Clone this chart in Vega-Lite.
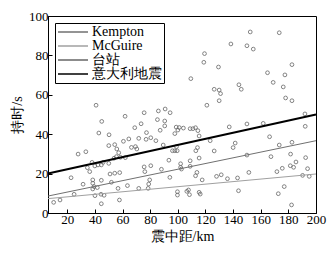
{
  "$schema": "https://vega.github.io/schema/vega-lite/v6.json",
  "width": 268,
  "height": 197,
  "autosize": "none",
  "padding": {"left": 48, "top": 16, "right": 19, "bottom": 40},
  "background": "white",
  "config": {
    "view": {"stroke": "black", "strokeWidth": 1},
    "axis": {
      "grid": false,
      "domainColor": "black",
      "tickColor": "black",
      "labelColor": "black",
      "titleColor": "black",
      "labelFont": "Liberation Serif",
      "labelFontSize": 13,
      "titleFont": "Liberation Serif",
      "titleFontSize": 14,
      "titleFontWeight": "normal",
      "tickSize": -4,
      "labelPadding": 4,
      "labelOverlap": false,
      "labelFlush": false,
      "labelBound": false
    }
  },
  "datasets": {
    "stations": [
      {"dist":152.4,"dur":91.9,"s":"台站"},{"dist":173.4,"dur":91.5,"s":"台站"},{"dist":138.4,"dur":85.8,"s":"台站"},{"dist":150,"dur":84.9,"s":"台站"},
      {"dist":154.6,"dur":83.2,"s":"台站"},{"dist":119.3,"dur":80.9,"s":"台站"},{"dist":118.8,"dur":76.5,"s":"台站"},{"dist":129.4,"dur":74.1,"s":"台站"},
      {"dist":182.6,"dur":75.3,"s":"台站"},{"dist":109.4,"dur":68.2,"s":"台站"},{"dist":164.9,"dur":71.2,"s":"台站"},{"dist":177.5,"dur":70.1,"s":"台站"},
      {"dist":169,"dur":66.3,"s":"台站"},{"dist":176.3,"dur":64,"s":"台站"},{"dist":144.2,"dur":65.1,"s":"台站"},{"dist":145.9,"dur":62.8,"s":"台站"},
      {"dist":126.3,"dur":62.8,"s":"台站"},{"dist":129.9,"dur":62.4,"s":"台站"},{"dist":130.9,"dur":60.6,"s":"台站"},{"dist":178,"dur":58.4,"s":"台站"},
      {"dist":182.6,"dur":57,"s":"台站"},{"dist":129.9,"dur":57,"s":"台站"},{"dist":121,"dur":54.7,"s":"台站"},{"dist":192,"dur":50.3,"s":"台站"},
      {"dist":104,"dur":43.1,"s":"台站"},{"dist":108.9,"dur":42.8,"s":"台站"},{"dist":110.9,"dur":42.8,"s":"台站"},{"dist":112.8,"dur":43.3,"s":"台站"},
      {"dist":114.5,"dur":41.8,"s":"台站"},{"dist":115.4,"dur":39.1,"s":"台站"},{"dist":137.2,"dur":43.7,"s":"台站"},{"dist":150,"dur":45.2,"s":"台站"},
      {"dist":161.8,"dur":45.5,"s":"台站"},{"dist":192.2,"dur":44,"s":"台站"},{"dist":166.4,"dur":38.7,"s":"台站"},{"dist":182.6,"dur":35.9,"s":"台站"},
      {"dist":173.4,"dur":34.5,"s":"台站"},{"dist":141.5,"dur":35.5,"s":"台站"},{"dist":140,"dur":33.2,"s":"台站"},{"dist":123.4,"dur":36.7,"s":"台站"},
      {"dist":114.2,"dur":33.2,"s":"台站"},{"dist":113,"dur":31.6,"s":"台站"},{"dist":126.3,"dur":31.5,"s":"台站"},{"dist":102,"dur":25,"s":"台站"},
      {"dist":102,"dur":23.2,"s":"台站"},{"dist":108.9,"dur":26.5,"s":"台站"},{"dist":115.4,"dur":27.9,"s":"台站"},{"dist":150,"dur":29.4,"s":"台站"},
      {"dist":167.4,"dur":28.6,"s":"台站"},{"dist":181.6,"dur":29.9,"s":"台站"},{"dist":185.5,"dur":25.9,"s":"台站"},{"dist":192.5,"dur":28.1,"s":"台站"},
      {"dist":108.9,"dur":23.7,"s":"台站"},{"dist":181.4,"dur":24,"s":"台站"},{"dist":183.8,"dur":23.2,"s":"台站"},{"dist":175.6,"dur":22.7,"s":"台站"},
      {"dist":193.9,"dur":22.5,"s":"台站"},{"dist":171.7,"dur":21,"s":"台站"},{"dist":151.4,"dur":20.6,"s":"台站"},{"dist":113.8,"dur":20.6,"s":"台站"},
      {"dist":112.8,"dur":18.9,"s":"台站"},{"dist":128,"dur":18.6,"s":"台站"},{"dist":131.4,"dur":19.4,"s":"台站"},{"dist":135.9,"dur":17.4,"s":"台站"},
      {"dist":143.2,"dur":17.8,"s":"台站"},{"dist":117.6,"dur":16.8,"s":"台站"},{"dist":190.3,"dur":19.1,"s":"台站"},{"dist":195.1,"dur":18.6,"s":"台站"},
      {"dist":106.5,"dur":11,"s":"台站"},{"dist":107.7,"dur":11.7,"s":"台站"},{"dist":108.4,"dur":9.3,"s":"台站"},{"dist":115.4,"dur":10.5,"s":"台站"},
      {"dist":116.2,"dur":9.6,"s":"台站"},{"dist":143.9,"dur":11.3,"s":"台站"},{"dist":172.7,"dur":9.8,"s":"台站"},{"dist":177,"dur":13.4,"s":"台站"},
      {"dist":182.3,"dur":4.1,"s":"台站"},{"dist":90.8,"dur":52.8,"s":"台站"},{"dist":94.4,"dur":50.9,"s":"台站"},{"dist":90.5,"dur":46.7,"s":"台站"},
      {"dist":90.5,"dur":44.2,"s":"台站"},{"dist":98.8,"dur":43.6,"s":"台站"},{"dist":101,"dur":43.4,"s":"台站"},{"dist":40.8,"dur":54.7,"s":"台站"},
      {"dist":44.9,"dur":46.5,"s":"台站"},{"dist":61.8,"dur":49.1,"s":"台站"},{"dist":75.6,"dur":50.9,"s":"台站"},{"dist":85.9,"dur":51.8,"s":"台站"},
      {"dist":85.2,"dur":47.4,"s":"台站"},{"dist":73.4,"dur":45.3,"s":"台站"},{"dist":68.8,"dur":43.3,"s":"台站"},{"dist":87.2,"dur":42,"s":"台站"},
      {"dist":100,"dur":42.1,"s":"台站"},{"dist":97.8,"dur":40.3,"s":"台站"},{"dist":42.8,"dur":40.6,"s":"台站"},{"dist":50.2,"dur":39.7,"s":"台站"},
      {"dist":77.3,"dur":40.8,"s":"台站"},{"dist":60.6,"dur":36.4,"s":"台站"},{"dist":64.5,"dur":37.6,"s":"台站"},{"dist":71.7,"dur":37.9,"s":"台站"},
      {"dist":77,"dur":37.4,"s":"台站"},{"dist":80.4,"dur":38.2,"s":"台站"},{"dist":84.1,"dur":36.7,"s":"台站"},{"dist":50,"dur":34.2,"s":"台站"},
      {"dist":54.3,"dur":34.7,"s":"台站"},{"dist":55.8,"dur":32.5,"s":"台站"},{"dist":66.4,"dur":33.3,"s":"台站"},{"dist":69.3,"dur":33.7,"s":"台站"},
      {"dist":70.3,"dur":32.5,"s":"台站"},{"dist":89.4,"dur":34.5,"s":"台站"},{"dist":99,"dur":33.7,"s":"台站"},{"dist":27.8,"dur":29.9,"s":"台站"},
      {"dist":33.4,"dur":31.1,"s":"台站"},{"dist":57.2,"dur":30.6,"s":"台站"},{"dist":96.1,"dur":31.6,"s":"台站"},{"dist":97.8,"dur":31.6,"s":"台站"},
      {"dist":99.5,"dur":31.6,"s":"台站"},{"dist":37.9,"dur":25.7,"s":"台站"},{"dist":34.5,"dur":23,"s":"台站"},{"dist":36.2,"dur":21,"s":"台站"},
      {"dist":39.9,"dur":23.9,"s":"台站"},{"dist":42.2,"dur":24.4,"s":"台站"},{"dist":44.6,"dur":24.4,"s":"台站"},{"dist":50,"dur":25.2,"s":"台站"},
      {"dist":53.8,"dur":27.8,"s":"台站"},{"dist":55.5,"dur":28.6,"s":"台站"},{"dist":58.4,"dur":28.3,"s":"台站"},{"dist":62,"dur":28.1,"s":"台站"},
      {"dist":45.9,"dur":25.7,"s":"台站"},{"dist":22.7,"dur":17.9,"s":"台站"},{"dist":31.4,"dur":14.6,"s":"台站"},{"dist":38.4,"dur":16.8,"s":"台站"},
      {"dist":38.4,"dur":15.1,"s":"台站"},{"dist":39.3,"dur":13.4,"s":"台站"},{"dist":38.4,"dur":12.2,"s":"台站"},{"dist":44.6,"dur":16.6,"s":"台站"},
      {"dist":50.9,"dur":19.8,"s":"台站"},{"dist":54.3,"dur":20.2,"s":"台站"},{"dist":57.9,"dur":20.5,"s":"台站"},{"dist":51.9,"dur":15.6,"s":"台站"},
      {"dist":63.5,"dur":13.9,"s":"台站"},{"dist":57.7,"dur":6.6,"s":"台站"},{"dist":41.7,"dur":12.9,"s":"台站"},{"dist":40,"dur":8.8,"s":"台站"},
      {"dist":44.4,"dur":9.5,"s":"台站"},{"dist":46.6,"dur":9,"s":"台站"},{"dist":44.6,"dur":4.7,"s":"台站"},{"dist":56.7,"dur":12.5,"s":"台站"},
      {"dist":71.7,"dur":12.5,"s":"台站"},{"dist":78.5,"dur":12.5,"s":"台站"},{"dist":78.9,"dur":14.7,"s":"台站"},{"dist":79.6,"dur":16.8,"s":"台站"},
      {"dist":75.6,"dur":23.4,"s":"台站"},{"dist":76.1,"dur":21,"s":"台站"},{"dist":80.4,"dur":24,"s":"台站"},{"dist":88.1,"dur":22.2,"s":"台站"},
      {"dist":93.5,"dur":26.8,"s":"台站"},{"dist":94.2,"dur":18.1,"s":"台站"},{"dist":102.6,"dur":22.3,"s":"台站"},{"dist":99.7,"dur":10.8,"s":"台站"},
      {"dist":99.7,"dur":9.1,"s":"台站"},{"dist":10.1,"dur":5.4,"s":"台站"},{"dist":14.7,"dur":6.6,"s":"台站"},{"dist":24.9,"dur":9.5,"s":"台站"}
    ],
    "fits": [
      {"s":"Kempton","dist":6,"dur":8.6},{"s":"Kempton","dist":200,"dur":36.7},
      {"s":"McGuire","dist":6,"dur":7.3},{"s":"McGuire","dist":200,"dur":19.8},
      {"s":"意大利地震","dist":6,"dur":20},{"s":"意大利地震","dist":200,"dur":50}
    ]
  },
  "encoding": {
    "x": {
      "field": "dist", "type": "quantitative",
      "scale": {"domain": [6, 200], "nice": false, "zero": false},
      "axis": {"title": "震中距/km", "values": [20,40,60,80,100,120,140,160,180,200], "titlePadding": 3}
    },
    "y": {
      "field": "dur", "type": "quantitative",
      "scale": {"domain": [0, 100], "nice": false},
      "axis": {"title": "持时/s", "values": [0,20,40,60,80,100], "titlePadding": 4}
    }
  },
  "layer": [
    {
      "data": {"name": "stations"},
      "mark": {"type": "point", "shape": "circle", "filled": false, "size": 14, "strokeWidth": 0.8, "opacity": 1},
      "encoding": {
        "stroke": {
          "field": "s", "type": "nominal",
          "scale": {"domain": ["Kempton", "McGuire", "台站", "意大利地震"], "range": ["#707070", "#a0a0a0", "#666666", "#000000"]},
          "legend": {
            "title": null, "orient": "top-left", "offset": 7,
            "symbolType": "stroke", "symbolSize": 900, "clipHeight": 14,
            "labelFont": "Liberation Serif", "labelFontSize": 14, "labelColor": "black", "labelOffset": 3,
            "strokeColor": "black", "fillColor": "white", "padding": 2, "rowPadding": 0,
            "encode": {"symbols": {
              "shape": {"value": {"expr": "(datum.label === '台站' ? 'circle' : 'stroke')"}},
              "size": {"value": {"expr": "(datum.label === '台站' ? 25 : 900)"}},
              "strokeWidth": {"value": {"expr": "(datum.label === '意大利地震' ? 2 : 1)"}},
              "fill": {"value": "transparent"},
              "opacity": {"value": 1}
            }}
          }
        }
      }
    },
    {
      "data": {"name": "fits"},
      "mark": {"type": "line"},
      "encoding": {
        "stroke": {"field": "s", "type": "nominal", "legend": null},
        "strokeWidth": {"condition": {"test": "datum.s === '意大利地震'", "value": 2}, "value": 1}
      }
    }
  ]
}
